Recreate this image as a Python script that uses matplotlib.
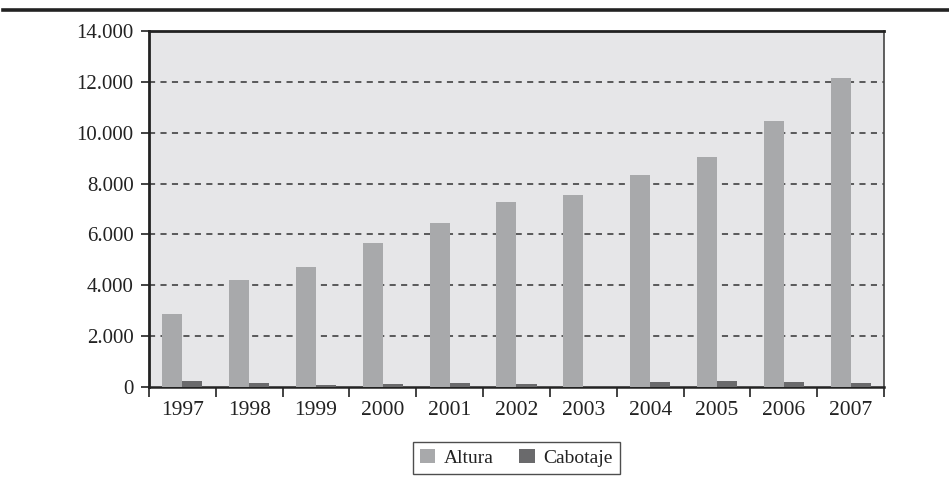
import matplotlib.pyplot as plt
from matplotlib.lines import Line2D
import numpy as np

years = ['1997', '1998', '1999', '2000', '2001', '2002',
         '2003', '2004', '2005', '2006', '2007']
altura = [2870, 4210, 4720, 5670, 6450, 7290, 7560, 8350, 9060, 10480, 12180]
cabotaje = [210, 130, 50, 90, 130, 90, 0, 170, 210, 170, 130]
y_ticks = [0, 2000, 4000, 6000, 8000, 10000, 12000, 14000]

plt.rcParams['font.family'] = ['Liberation Serif', 'DejaVu Serif']

fig = plt.figure(figsize=(9.49, 4.83), dpi=100)
ax = fig.add_axes([0.157, 0.1994, 0.7745, 0.7354])
ax.set_facecolor('#e6e6e8')

x = np.arange(len(years))
w = 0.3
ax.bar(x - w / 2, altura, width=w, color='#a8a9ab', label='Altura', zorder=3)
ax.bar(x + w / 2, cabotaje, width=w, color='#6a6a6c', label='Cabotaje', zorder=3)

ax.set_xlim(-0.5, len(years) - 0.5)
ax.set_ylim(0, 14000)
ax.set_yticks(y_ticks)
ax.set_yticklabels([f'{v:,}'.replace(',', '.') for v in y_ticks])

# category ticks sit on the boundaries, labels in the middle
ax.set_xticks(np.arange(len(years) + 1) - 0.5)
ax.set_xticklabels([])
ax.set_xticks(x, minor=True)
ax.set_xticklabels(years, minor=True)
ax.tick_params(axis='x', which='major', direction='out', length=7, width=1.2, color='#222222')
ax.tick_params(axis='x', which='minor', length=0, labelsize=15.5, pad=10, labelcolor='#222222')
ax.tick_params(axis='y', direction='out', length=6, width=1.2, labelsize=15,
               pad=5, color='#222222', labelcolor='#222222')

for yv in y_ticks[1:-1]:
    ax.axhline(yv, color='#333333', linestyle=(0, (4, 3.5)), linewidth=1.1, zorder=2)

ax.spines['left'].set_linewidth(2)
ax.spines['left'].set_color('#222222')
ax.spines['bottom'].set_linewidth(1.8)
ax.spines['bottom'].set_color('#222222')
ax.spines['top'].set_linewidth(2)
ax.spines['top'].set_color('#222222')
ax.spines['right'].set_linewidth(1.2)
ax.spines['right'].set_color('#444444')

leg = ax.legend(loc='upper center', bbox_to_anchor=(0.5, -0.155), ncol=2,
                frameon=True, fancybox=False, fontsize=14, handlelength=0.8,
                handleheight=0.8, handletextpad=0.45, columnspacing=1.3,
                borderpad=0.35, borderaxespad=0.0, edgecolor='#222222')
leg.get_frame().set_linewidth(1.0)
for t in leg.get_texts():
    t.set_color('#222222')

# heavy rule across the top of the figure
fig.add_artist(Line2D([0.003, 1.0], [0.979, 0.979], color='#222222', linewidth=2.6,
                      transform=fig.transFigure))

fig.savefig('out.png', dpi=100)
